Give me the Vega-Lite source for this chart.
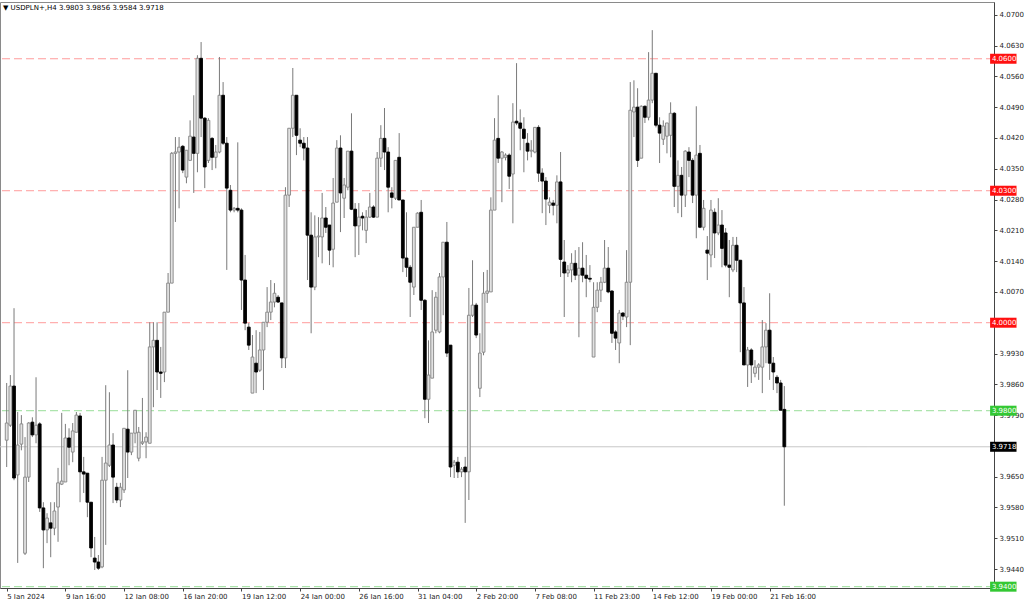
{
"$schema": "https://vega.github.io/schema/vega-lite/v6.json",
"width": 994, "height": 586,
"autosize": {"type": "none"},
"padding": {"left": 0, "top": 2, "right": 30, "bottom": 11},
"background": "#ffffff",
"config": {"view": {"stroke": "#8a8a8a", "strokeWidth": 1}, "font": "DejaVu Sans"},
"title": {"text": "▼ USDPLN+,H4  3.9803 3.9856 3.9584 3.9718", "anchor": "start", "frame": "group", "orient": "top", "offset": -9, "fontSize": 7, "fontWeight": "normal", "font": "DejaVu Sans", "color": "#000000", "dx": 3},
"datasets": {
"candles": [
{"i":0,"o":3.9733,"h":3.9863,"l":3.9672,"c":3.9772},
{"i":1,"o":3.9767,"h":3.9881,"l":3.9763,"c":3.9856},
{"i":2,"o":3.9856,"h":4.0033,"l":3.9642,"c":3.9647},
{"i":3,"o":3.9654,"h":3.9797,"l":3.9454,"c":3.9722},
{"i":4,"o":3.9724,"h":3.9790,"l":3.9710,"c":3.9770},
{"i":5,"o":3.9476,"h":3.9740,"l":3.9472,"c":3.9649},
{"i":6,"o":3.9649,"h":3.9774,"l":3.9638,"c":3.9772},
{"i":7,"o":3.9774,"h":3.9785,"l":3.9740,"c":3.9745},
{"i":8,"o":3.9745,"h":3.9876,"l":3.9726,"c":3.9767},
{"i":9,"o":3.9770,"h":3.9774,"l":3.9570,"c":3.9579},
{"i":10,"o":3.9579,"h":3.9592,"l":3.9442,"c":3.9529},
{"i":11,"o":3.9529,"h":3.9567,"l":3.9499,"c":3.9556},
{"i":12,"o":3.9545,"h":3.9592,"l":3.9467,"c":3.9533},
{"i":13,"o":3.9533,"h":3.9592,"l":3.9517,"c":3.9572},
{"i":14,"o":3.9581,"h":3.9670,"l":3.9502,"c":3.9636},
{"i":15,"o":3.9633,"h":3.9795,"l":3.9631,"c":3.9640},
{"i":16,"o":3.9638,"h":3.9770,"l":3.9638,"c":3.9738},
{"i":17,"o":3.9738,"h":3.9760,"l":3.9676,"c":3.9717},
{"i":18,"o":3.9706,"h":3.9772,"l":3.9683,"c":3.9754},
{"i":19,"o":3.9751,"h":3.9797,"l":3.9751,"c":3.9790},
{"i":20,"o":3.9788,"h":3.9795,"l":3.9592,"c":3.9661},
{"i":21,"o":3.9661,"h":3.9695,"l":3.9613,"c":3.9656},
{"i":22,"o":3.9658,"h":3.9658,"l":3.9558,"c":3.9592},
{"i":23,"o":3.9592,"h":3.9592,"l":3.9467,"c":3.9488},
{"i":24,"o":3.9465,"h":3.9513,"l":3.9438,"c":3.9456},
{"i":25,"o":3.9456,"h":3.9472,"l":3.9438,"c":3.9442},
{"i":26,"o":3.9445,"h":3.9695,"l":3.9442,"c":3.9642},
{"i":27,"o":3.9642,"h":3.9858,"l":3.9495,"c":3.9681},
{"i":28,"o":3.9676,"h":3.9842,"l":3.9672,"c":3.9722},
{"i":29,"o":3.9722,"h":3.9749,"l":3.9590,"c":3.9649},
{"i":30,"o":3.9626,"h":3.9636,"l":3.9590,"c":3.9597},
{"i":31,"o":3.9597,"h":3.9636,"l":3.9581,"c":3.9626},
{"i":32,"o":3.9620,"h":3.9760,"l":3.9613,"c":3.9760},
{"i":33,"o":3.9758,"h":3.9892,"l":3.9647,"c":3.9706},
{"i":34,"o":3.9706,"h":3.9749,"l":3.9699,"c":3.9749},
{"i":35,"o":3.9749,"h":3.9801,"l":3.9726,"c":3.9801},
{"i":36,"o":3.9692,"h":3.9763,"l":3.9685,"c":3.9751},
{"i":37,"o":3.9726,"h":3.9829,"l":3.9722,"c":3.9729},
{"i":38,"o":3.9729,"h":3.9751,"l":3.9692,"c":3.9740},
{"i":39,"o":3.9726,"h":4.0001,"l":3.9726,"c":3.9945},
{"i":40,"o":3.9945,"h":4.0001,"l":3.9808,"c":3.9960},
{"i":41,"o":3.9960,"h":4.0001,"l":3.9847,"c":3.9888},
{"i":42,"o":3.9888,"h":3.9945,"l":3.9829,"c":3.9885},
{"i":43,"o":3.9888,"h":4.0024,"l":3.9865,"c":4.0024},
{"i":44,"o":4.0024,"h":4.0113,"l":4.0024,"c":4.0090},
{"i":45,"o":4.0090,"h":4.0388,"l":4.0090,"c":4.0385},
{"i":46,"o":4.0385,"h":4.0422,"l":4.0229,"c":4.0388},
{"i":47,"o":4.0388,"h":4.0422,"l":4.0260,"c":4.0399},
{"i":48,"o":4.0401,"h":4.0404,"l":4.0340,"c":4.0347},
{"i":49,"o":4.0331,"h":4.0392,"l":4.0317,"c":4.0392},
{"i":50,"o":4.0369,"h":4.0460,"l":4.0369,"c":4.0424},
{"i":51,"o":4.0422,"h":4.0517,"l":4.0295,"c":4.0385},
{"i":52,"o":4.0385,"h":4.0608,"l":4.0342,"c":4.0601},
{"i":53,"o":4.0601,"h":4.0638,"l":4.0422,"c":4.0465},
{"i":54,"o":4.0465,"h":4.0467,"l":4.0306,"c":4.0354},
{"i":55,"o":4.0369,"h":4.0465,"l":4.0363,"c":4.0460},
{"i":56,"o":4.0419,"h":4.0422,"l":4.0347,"c":4.0376},
{"i":57,"o":4.0376,"h":4.0404,"l":4.0351,"c":4.0388},
{"i":58,"o":4.0388,"h":4.0604,"l":4.0385,"c":4.0517},
{"i":59,"o":4.0517,"h":4.0547,"l":4.0404,"c":4.0408},
{"i":60,"o":4.0408,"h":4.0422,"l":4.0120,"c":4.0306},
{"i":61,"o":4.0301,"h":4.0313,"l":4.0251,"c":4.0256},
{"i":62,"o":4.0256,"h":4.0263,"l":4.0251,"c":4.0260},
{"i":63,"o":4.0260,"h":4.0410,"l":4.0251,"c":4.0256},
{"i":64,"o":4.0256,"h":4.0260,"l":4.0029,"c":4.0097},
{"i":65,"o":4.0097,"h":4.0154,"l":3.9983,"c":3.9999},
{"i":66,"o":3.9990,"h":3.9999,"l":3.9938,"c":3.9949},
{"i":67,"o":3.9840,"h":3.9972,"l":3.9840,"c":3.9922},
{"i":68,"o":3.9908,"h":3.9983,"l":3.9840,"c":3.9888},
{"i":69,"o":3.9892,"h":3.9979,"l":3.9888,"c":3.9938},
{"i":70,"o":3.9938,"h":4.0001,"l":3.9847,"c":4.0001},
{"i":71,"o":4.0001,"h":4.0081,"l":3.9990,"c":4.0024},
{"i":72,"o":4.0024,"h":4.0097,"l":4.0006,"c":4.0047},
{"i":73,"o":4.0047,"h":4.0090,"l":4.0035,"c":4.0067},
{"i":74,"o":4.0058,"h":4.0063,"l":4.0045,"c":4.0047},
{"i":75,"o":4.0045,"h":4.0045,"l":3.9897,"c":3.9920},
{"i":76,"o":3.9920,"h":4.0308,"l":3.9897,"c":4.0290},
{"i":77,"o":4.0290,"h":4.0442,"l":4.0263,"c":4.0442},
{"i":78,"o":4.0442,"h":4.0579,"l":4.0422,"c":4.0517},
{"i":79,"o":4.0517,"h":4.0517,"l":4.0381,"c":4.0426},
{"i":80,"o":4.0415,"h":4.0442,"l":4.0399,"c":4.0408},
{"i":81,"o":4.0408,"h":4.0422,"l":4.0369,"c":4.0397},
{"i":82,"o":4.0397,"h":4.0422,"l":4.0097,"c":4.0199},
{"i":83,"o":4.0199,"h":4.0251,"l":3.9976,"c":4.0081},
{"i":84,"o":4.0081,"h":4.0244,"l":4.0074,"c":4.0195},
{"i":85,"o":4.0195,"h":4.0240,"l":4.0149,"c":4.0197},
{"i":86,"o":4.0195,"h":4.0295,"l":4.0135,"c":4.0238},
{"i":87,"o":4.0238,"h":4.0263,"l":4.0204,"c":4.0217},
{"i":88,"o":4.0222,"h":4.0222,"l":4.0131,"c":4.0165},
{"i":89,"o":4.0167,"h":4.0329,"l":4.0126,"c":4.0272},
{"i":90,"o":4.0274,"h":4.0415,"l":4.0274,"c":4.0397},
{"i":91,"o":4.0397,"h":4.0426,"l":4.0206,"c":4.0295},
{"i":92,"o":4.0283,"h":4.0329,"l":4.0238,"c":4.0313},
{"i":93,"o":4.0308,"h":4.0390,"l":4.0301,"c":4.0390},
{"i":94,"o":4.0390,"h":4.0476,"l":4.0256,"c":4.0258},
{"i":95,"o":4.0258,"h":4.0272,"l":4.0149,"c":4.0220},
{"i":96,"o":4.0220,"h":4.0272,"l":4.0154,"c":4.0240},
{"i":97,"o":4.0242,"h":4.0251,"l":4.0210,"c":4.0238},
{"i":98,"o":4.0210,"h":4.0256,"l":4.0181,"c":4.0240},
{"i":99,"o":4.0240,"h":4.0295,"l":4.0238,"c":4.0263},
{"i":100,"o":4.0263,"h":4.0267,"l":4.0238,"c":4.0240},
{"i":101,"o":4.0240,"h":4.0388,"l":4.0240,"c":4.0374},
{"i":102,"o":4.0374,"h":4.0449,"l":4.0354,"c":4.0419},
{"i":103,"o":4.0419,"h":4.0488,"l":4.0347,"c":4.0388},
{"i":104,"o":4.0388,"h":4.0399,"l":4.0251,"c":4.0308},
{"i":105,"o":4.0295,"h":4.0308,"l":4.0260,"c":4.0285},
{"i":106,"o":4.0283,"h":4.0369,"l":4.0279,"c":4.0369},
{"i":107,"o":4.0376,"h":4.0431,"l":4.0279,"c":4.0279},
{"i":108,"o":4.0279,"h":4.0279,"l":4.0115,"c":4.0147},
{"i":109,"o":4.0147,"h":4.0251,"l":4.0104,"c":4.0126},
{"i":110,"o":4.0126,"h":4.0131,"l":4.0013,"c":4.0092},
{"i":111,"o":4.0081,"h":4.0217,"l":4.0063,"c":4.0217},
{"i":112,"o":4.0217,"h":4.0251,"l":4.0217,"c":4.0249},
{"i":113,"o":4.0251,"h":4.0279,"l":4.0029,"c":4.0051},
{"i":114,"o":4.0051,"h":4.0054,"l":3.9783,"c":3.9826},
{"i":115,"o":3.9826,"h":3.9960,"l":3.9772,"c":3.9881},
{"i":116,"o":3.9874,"h":4.0074,"l":3.9874,"c":3.9979},
{"i":117,"o":3.9983,"h":4.0070,"l":3.9976,"c":4.0058},
{"i":118,"o":3.9979,"h":4.0113,"l":3.9976,"c":4.0104},
{"i":119,"o":4.0104,"h":4.0183,"l":4.0017,"c":4.0183},
{"i":120,"o":4.0183,"h":4.0229,"l":3.9922,"c":3.9931},
{"i":121,"o":3.9949,"h":3.9949,"l":3.9649,"c":3.9672},
{"i":122,"o":3.9676,"h":3.9688,"l":3.9647,"c":3.9683},
{"i":123,"o":3.9683,"h":3.9695,"l":3.9647,"c":3.9661},
{"i":124,"o":3.9661,"h":3.9672,"l":3.9649,"c":3.9667},
{"i":125,"o":3.9672,"h":3.9695,"l":3.9545,"c":3.9661},
{"i":126,"o":3.9661,"h":4.0079,"l":3.9597,"c":4.0017},
{"i":127,"o":4.0017,"h":4.0142,"l":4.0013,"c":4.0040},
{"i":128,"o":4.0040,"h":4.0045,"l":3.9965,"c":3.9972},
{"i":129,"o":3.9851,"h":3.9976,"l":3.9831,"c":3.9931},
{"i":130,"o":3.9933,"h":4.0115,"l":3.9926,"c":4.0067},
{"i":131,"o":4.0067,"h":4.0120,"l":4.0045,"c":4.0072},
{"i":132,"o":4.0070,"h":4.0285,"l":4.0070,"c":4.0256},
{"i":133,"o":4.0256,"h":4.0465,"l":4.0256,"c":4.0415},
{"i":134,"o":4.0419,"h":4.0517,"l":4.0363,"c":4.0374},
{"i":135,"o":4.0374,"h":4.0390,"l":4.0274,"c":4.0388},
{"i":136,"o":4.0376,"h":4.0385,"l":4.0369,"c":4.0381},
{"i":137,"o":4.0381,"h":4.0385,"l":4.0304,"c":4.0333},
{"i":138,"o":4.0338,"h":4.0499,"l":4.0226,"c":4.0456},
{"i":139,"o":4.0458,"h":4.0590,"l":4.0449,"c":4.0454},
{"i":140,"o":4.0454,"h":4.0485,"l":4.0392,"c":4.0442},
{"i":141,"o":4.0440,"h":4.0467,"l":4.0342,"c":4.0419},
{"i":142,"o":4.0408,"h":4.0431,"l":4.0369,"c":4.0390},
{"i":143,"o":4.0390,"h":4.0415,"l":4.0376,"c":4.0392},
{"i":144,"o":4.0388,"h":4.0444,"l":4.0385,"c":4.0444},
{"i":145,"o":4.0444,"h":4.0449,"l":4.0320,"c":4.0340},
{"i":146,"o":4.0340,"h":4.0351,"l":4.0249,"c":4.0322},
{"i":147,"o":4.0322,"h":4.0331,"l":4.0222,"c":4.0281},
{"i":148,"o":4.0267,"h":4.0285,"l":4.0249,"c":4.0274},
{"i":149,"o":4.0272,"h":4.0279,"l":4.0244,"c":4.0267},
{"i":150,"o":4.0267,"h":4.0335,"l":4.0226,"c":4.0320},
{"i":151,"o":4.0320,"h":4.0388,"l":4.0104,"c":4.0144},
{"i":152,"o":4.0138,"h":4.0188,"l":4.0013,"c":4.0113},
{"i":153,"o":4.0113,"h":4.0131,"l":4.0104,"c":4.0120},
{"i":154,"o":4.0120,"h":4.0158,"l":4.0092,"c":4.0135},
{"i":155,"o":4.0135,"h":4.0165,"l":4.0097,"c":4.0108},
{"i":156,"o":4.0108,"h":4.0172,"l":3.9967,"c":4.0124},
{"i":157,"o":4.0124,"h":4.0183,"l":4.0092,"c":4.0108},
{"i":158,"o":4.0108,"h":4.0154,"l":4.0058,"c":4.0101},
{"i":159,"o":4.0101,"h":4.0131,"l":4.0092,"c":4.0099},
{"i":160,"o":3.9922,"h":4.0092,"l":3.9922,"c":4.0035},
{"i":161,"o":4.0035,"h":4.0092,"l":4.0024,"c":4.0074},
{"i":162,"o":4.0074,"h":4.0104,"l":4.0047,"c":4.0092},
{"i":163,"o":4.0092,"h":4.0188,"l":4.0090,"c":4.0124},
{"i":164,"o":4.0124,"h":4.0172,"l":4.0067,"c":4.0070},
{"i":165,"o":4.0072,"h":4.0074,"l":3.9954,"c":3.9976},
{"i":166,"o":3.9979,"h":3.9983,"l":3.9938,"c":3.9965},
{"i":167,"o":3.9954,"h":4.0029,"l":3.9908,"c":4.0022},
{"i":168,"o":4.0022,"h":4.0024,"l":4.0006,"c":4.0015},
{"i":169,"o":4.0013,"h":4.0165,"l":3.9990,"c":4.0092},
{"i":170,"o":4.0092,"h":4.0547,"l":3.9949,"c":4.0483},
{"i":171,"o":4.0479,"h":4.0551,"l":4.0422,"c":4.0490},
{"i":172,"o":4.0490,"h":4.0533,"l":4.0354,"c":4.0369},
{"i":173,"o":4.0374,"h":4.0494,"l":4.0374,"c":4.0492},
{"i":174,"o":4.0492,"h":4.0494,"l":4.0454,"c":4.0467},
{"i":175,"o":4.0467,"h":4.0615,"l":4.0460,"c":4.0506},
{"i":176,"o":4.0506,"h":4.0665,"l":4.0499,"c":4.0567},
{"i":177,"o":4.0567,"h":4.0567,"l":4.0444,"c":4.0449},
{"i":178,"o":4.0449,"h":4.0467,"l":4.0363,"c":4.0431},
{"i":179,"o":4.0417,"h":4.0460,"l":4.0404,"c":4.0447},
{"i":180,"o":4.0424,"h":4.0454,"l":4.0385,"c":4.0454},
{"i":181,"o":4.0426,"h":4.0501,"l":4.0376,"c":4.0476},
{"i":182,"o":4.0476,"h":4.0479,"l":4.0263,"c":4.0310},
{"i":183,"o":4.0310,"h":4.0369,"l":4.0249,"c":4.0335},
{"i":184,"o":4.0335,"h":4.0354,"l":4.0240,"c":4.0290},
{"i":185,"o":4.0290,"h":4.0392,"l":4.0263,"c":4.0390},
{"i":186,"o":4.0388,"h":4.0399,"l":4.0331,"c":4.0369},
{"i":187,"o":4.0369,"h":4.0374,"l":4.0272,"c":4.0290},
{"i":188,"o":4.0290,"h":4.0492,"l":4.0192,"c":4.0381},
{"i":189,"o":4.0385,"h":4.0404,"l":4.0215,"c":4.0217},
{"i":190,"o":4.0217,"h":4.0279,"l":4.0210,"c":4.0260},
{"i":191,"o":4.0165,"h":4.0197,"l":4.0097,"c":4.0158},
{"i":192,"o":4.0154,"h":4.0279,"l":4.0126,"c":4.0256},
{"i":193,"o":4.0251,"h":4.0260,"l":4.0147,"c":4.0204},
{"i":194,"o":4.0204,"h":4.0283,"l":4.0199,"c":4.0222},
{"i":195,"o":4.0222,"h":4.0256,"l":4.0126,"c":4.0169},
{"i":196,"o":4.0204,"h":4.0215,"l":4.0126,"c":4.0131},
{"i":197,"o":4.0131,"h":4.0188,"l":4.0058,"c":4.0126},
{"i":198,"o":4.0120,"h":4.0195,"l":4.0115,"c":4.0176},
{"i":199,"o":4.0176,"h":4.0195,"l":4.0115,"c":4.0142},
{"i":200,"o":4.0142,"h":4.0142,"l":3.9933,"c":4.0045},
{"i":201,"o":4.0045,"h":4.0081,"l":3.9904,"c":3.9904},
{"i":202,"o":3.9904,"h":3.9945,"l":3.9854,"c":3.9938},
{"i":203,"o":3.9938,"h":3.9942,"l":3.9863,"c":3.9904},
{"i":204,"o":3.9885,"h":3.9915,"l":3.9876,"c":3.9899},
{"i":205,"o":3.9899,"h":3.9908,"l":3.9870,"c":3.9904},
{"i":206,"o":3.9899,"h":4.0006,"l":3.9840,"c":3.9945},
{"i":207,"o":3.9945,"h":3.9999,"l":3.9908,"c":3.9983},
{"i":208,"o":3.9983,"h":4.0067,"l":3.9870,"c":3.9908},
{"i":209,"o":3.9908,"h":3.9922,"l":3.9847,"c":3.9888},
{"i":210,"o":3.9876,"h":3.9881,"l":3.9840,"c":3.9863},
{"i":211,"o":3.9863,"h":3.9870,"l":3.9801,"c":3.9801},
{"i":212,"o":3.9803,"h":3.9856,"l":3.9584,"c":3.9718}
],
"levels": [
{"p":4.06,"k":"r"},{"p":4.03,"k":"r"},{"p":4.0,"k":"r"},{"p":3.98,"k":"g"},{"p":3.9718,"k":"b"},{"p":3.94,"k":"g"}
]
},
"layer": [
{
"data": {"name": "levels"},
"mark": {"type": "rule", "strokeWidth": 1},
"encoding": {
"y": {"field": "p", "type": "quantitative",
"scale": {"domain": [3.9397, 4.0729], "nice": false, "zero": false},
"axis": {"orient": "right", "values": [4.07,4.063,4.056,4.049,4.042,4.035,4.028,4.021,4.014,4.007,3.993,3.986,3.979,3.965,3.958,3.951,3.944],
"tickCount": 60, "format": ".4f", "grid": false, "title": null, "labelFontSize": 7, "labelColor": "#222222", "labelFont": "DejaVu Sans",
"tickSize": 3, "tickColor": "#444444", "domainColor": "#444444", "labelPadding": 2, "labelOverlap": false, "labelFlush": false}},
"stroke": {"field": "k", "type": "nominal", "scale": {"domain": ["r","g","b"], "range": ["#ff9b9b","#99de99","#c8c8c8"]}, "legend": null},
"strokeDash": {"field": "k", "type": "nominal", "scale": {"domain": ["r","g","b"], "range": [[8,4],[8,4],[1,0]]}, "legend": null}
}
},
{
"data": {"name": "candles"},
"mark": {"type": "rule", "strokeWidth": 1, "color": "#7a7a7a"},
"encoding": {
"x": {"field": "i", "type": "quantitative",
"scale": {"domain": [-0.46, 267.8], "nice": false, "zero": false},
"axis": {"orient": "bottom", "values": [0,16,32,48,64,80,96,112,128,144,160,176,192,208], "tickCount": 60,
"labelExpr": "['5 Jan 2024','9 Jan 16:00','12 Jan 08:00','16 Jan 20:00','19 Jan 12:00','24 Jan 00:00','26 Jan 16:00','31 Jan 04:00','2 Feb 20:00','7 Feb 08:00','11 Feb 23:00','14 Feb 12:00','19 Feb 00:00','21 Feb 16:00'][round(datum.value/16)]",
"labelAlign": "left", "labelFontSize": 7, "labelColor": "#222222", "labelFont": "DejaVu Sans", "tickSize": 3, "tickColor": "#444444", "domainColor": "#444444",
"labelPadding": 1, "grid": false, "title": null, "labelOverlap": false, "labelFlush": false}},
"y": {"field": "l", "type": "quantitative"},
"y2": {"field": "h"}
}
},
{
"data": {"name": "candles"},
"mark": {"type": "bar", "width": 2.8, "strokeWidth": 0.9},
"encoding": {
"x": {"field": "i", "type": "quantitative"},
"y": {"field": "o", "type": "quantitative"},
"y2": {"field": "c"},
"fill": {"condition": {"test": "datum.c >= datum.o", "value": "#e2e2e2"}, "value": "#000000"},
"stroke": {"condition": {"test": "datum.c >= datum.o", "value": "#858585"}, "value": "#000000"}
}
},
{
"data": {"name": "levels"},
"mark": {"type": "rect", "height": 10},
"encoding": {
"y": {"field": "p", "type": "quantitative"},
"x": {"datum": 268.1},
"x2": {"datum": 275.3},
"fill": {"field": "k", "type": "nominal", "scale": {"domain": ["r","g","b"], "range": ["#ff1010","#33c833","#000000"]}, "legend": null}
}
},
{
"data": {"name": "levels"},
"mark": {"type": "text", "align": "left", "baseline": "middle", "fontSize": 7, "font": "DejaVu Sans", "color": "#ffffff"},
"encoding": {
"y": {"field": "p", "type": "quantitative"},
"x": {"datum": 268.6},
"text": {"field": "p", "type": "quantitative", "format": ".4f"}
}
}
]
}
